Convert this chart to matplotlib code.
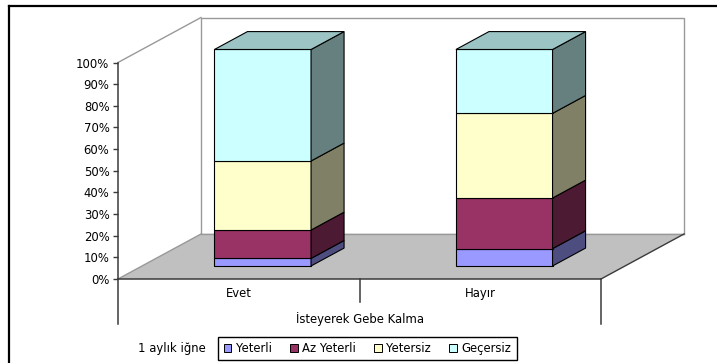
import matplotlib
matplotlib.use("Agg")
import matplotlib.pyplot as plt
from matplotlib.patches import Polygon, Patch
from matplotlib.lines import Line2D
from matplotlib.ticker import FuncFormatter

# ---- data -------------------------------------------------------------
categories = ["Evet", "Hayır"]
series_names = ["Yeterli", "Az Yeterli", "Yetersiz", "Geçersiz"]
yeterli = [3.5, 8.0]
az_yeterli = [13.1, 23.4]
yetersiz = [31.9, 39.1]
gecersiz = [51.5, 29.5]
y_ticks = [0, 10, 20, 30, 40, 50, 60, 70, 80, 90, 100]
axis_title = "İsteyerek Gebe Kalma"
legend_title = "1 aylık iğne"

series = [yeterli, az_yeterli, yetersiz, gecersiz]

# ---- styles -----------------------------------------------------------
front_colors = ["#9999FF", "#993366", "#FFFFCC", "#CCFFFF"]
side_colors = ["#4D4D80", "#4D1A33", "#808066", "#668080"]
top_color = "#9CC4C4"
wall_grey = "#999999"
dark = "#3a3a3a"
plt.rcParams["font.family"] = ["DejaVu Sans"]
FS = 8.4

W, H = 717, 363
fig = plt.figure(figsize=(W / 100, H / 100), dpi=100)


def px_box(x0, y0, x1, y1):
    """Pixel box (origin top-left) -> figure-fraction rect."""
    return [x0 / W, 1 - y1 / H, (x1 - x0) / W, (y1 - y0) / H]


# front plane of the 3-D plot area
ax_l, ax_t, ax_r, ax_b = 118, 62.5, 601, 279
ax = fig.add_axes(px_box(ax_l, ax_t, ax_r, ax_b))
ax.set_xlim(0, len(categories))
ax.set_ylim(0, 100)

# oblique depth vector, expressed in data units
depth_px = (83, 45)
DX = depth_px[0] * len(categories) / (ax_r - ax_l)
DY = depth_px[1] * 100 / (ax_b - ax_t)


def P(x, v, d):
    return (x + d * DX, v + d * DY)


def poly(pts, fc, ec="black", lw=0.8, z=2):
    ax.add_patch(Polygon(pts, closed=True, facecolor=fc, edgecolor=ec,
                         linewidth=lw, zorder=z, clip_on=False,
                         joinstyle="miter"))


def seg(p0, p1, color, lw=1.0, z=1.5):
    ax.add_line(Line2D([p0[0], p1[0]], [p0[1], p1[1]], color=color,
                       linewidth=lw, zorder=z, clip_on=False))


n = len(categories)
# back wall
poly([P(0, 0, 1), P(n, 0, 1), P(n, 100, 1), P(0, 100, 1)], "white",
     ec=wall_grey, lw=1.0, z=0.5)
# left wall edge
seg(P(0, 100, 0), P(0, 100, 1), wall_grey)
# floor
poly([P(0, 0, 0), P(n, 0, 0), P(n, 0, 1), P(0, 0, 1)], "#C0C0C0",
     ec="none", lw=0, z=1)
seg(P(0, 0, 0), P(0, 0, 1), wall_grey, z=1.2)
seg(P(0, 0, 1), P(n, 0, 1), wall_grey, z=1.2)
seg(P(n, 0, 0), P(n, 0, 1), dark, z=1.2)

# lines hanging below the floor (category axis divisions)
drop_full = 45 * 100 / (ax_b - ax_t)
drop_mid = 23 * 100 / (ax_b - ax_t)
for xv in (0, n):
    seg((xv, 0), (xv, -drop_full), dark, lw=1.1)
for xv in range(1, n):
    seg((xv, 0), (xv, -drop_mid), dark, lw=1.1)

# stacked 3-D bars
half_w = 0.2
d_front, d_back = 0.289, 0.687
for i, cat in enumerate(categories):
    c = i + 0.5
    bottom = 0.0
    for k, vals in enumerate(series):
        top = bottom + vals[i]
        xl, xr = c - half_w, c + half_w
        poly([P(xl, bottom, d_front), P(xr, bottom, d_front),
              P(xr, top, d_front), P(xl, top, d_front)], front_colors[k], z=3)
        poly([P(xr, bottom, d_front), P(xr, bottom, d_back),
              P(xr, top, d_back), P(xr, top, d_front)], side_colors[k], z=3)
        if k == len(series) - 1:
            poly([P(xl, top, d_front), P(xr, top, d_front),
                  P(xr, top, d_back), P(xl, top, d_back)], top_color, z=3)
        bottom = top

# axes styling
for side in ("top", "right"):
    ax.spines[side].set_visible(False)
for side in ("left", "bottom"):
    ax.spines[side].set_color(dark)
    ax.spines[side].set_linewidth(1.1)
    ax.spines[side].set_zorder(4)
ax.patch.set_visible(False)

ax.set_yticks(y_ticks)
ax.yaxis.set_major_formatter(FuncFormatter(lambda v, _: f"{v:.0f}%"))
ax.tick_params(axis="y", length=3.6, width=1.0, color=dark, pad=2.6,
               labelsize=FS, labelcolor="black")
ax.set_xticks([i + 0.5 for i in range(n)], categories)
ax.tick_params(axis="x", length=0, pad=6.0, labelsize=FS)
ax.set_xlabel(axis_title, fontsize=FS, labelpad=8.5)

# legend
handles = [Patch(facecolor=front_colors[k], edgecolor="black", linewidth=0.7)
           for k in range(len(series_names))]
leg = fig.legend(handles, series_names, loc="center",
                 bbox_to_anchor=(367.5 / W, 1 - 348.5 / H), ncol=4,
                 frameon=True, fancybox=False, edgecolor="black",
                 framealpha=1, fontsize=FS, handlelength=0.65,
                 handleheight=0.65, handletextpad=0.4, columnspacing=1.55,
                 borderpad=0.45, borderaxespad=0)
leg.get_frame().set_linewidth(1.0)
fig.text(206 / W, 1 - 348.5 / H, legend_title, ha="right", va="center",
         fontsize=FS)

# outer chart frame: top and left edges (the rest runs off the canvas)
fig.add_artist(Line2D([9 / W, 9 / W], [0, 1 - 6 / H], color="black",
                      linewidth=1.6, transform=fig.transFigure))
fig.add_artist(Line2D([9 / W, 1], [1 - 6 / H, 1 - 6 / H], color="black",
                      linewidth=1.6, transform=fig.transFigure))

fig.savefig("out.png", dpi=100)
